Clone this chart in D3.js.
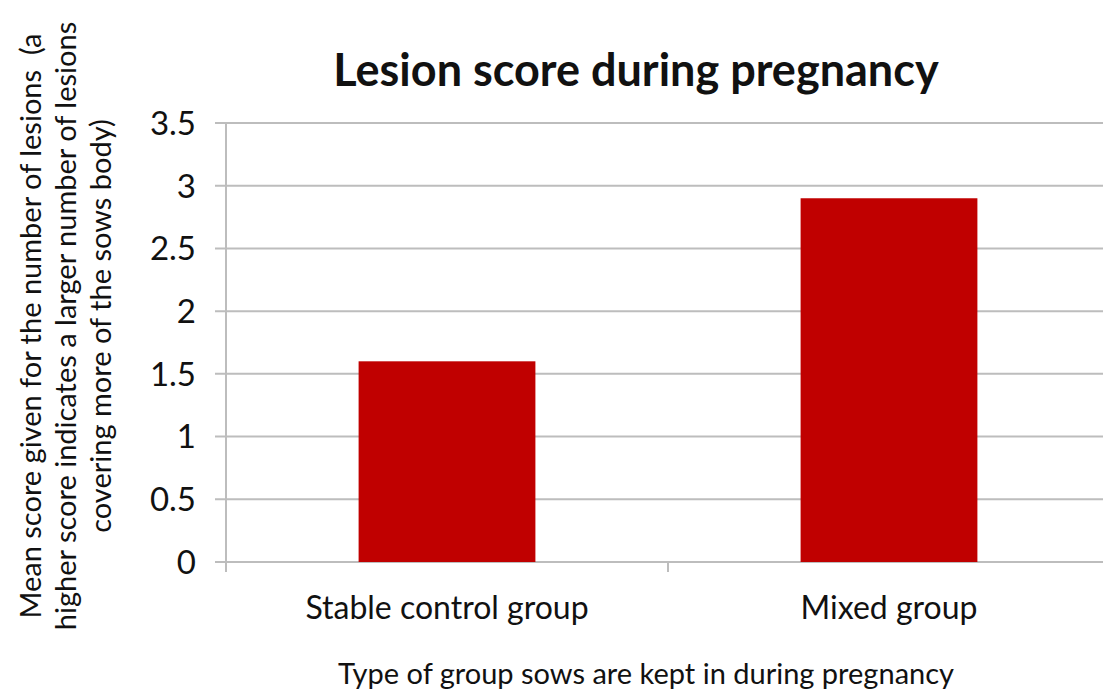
<!DOCTYPE html>
<html>
<head>
<meta charset="utf-8">
<script src="https://cdn.jsdelivr.net/npm/d3@7"></script>
<style>
  body { margin: 0; background: #fff; }
  text { font-family: Lato, "Open Sans", sans-serif; fill: #111; white-space: pre; }
</style>
</head>
<body>
<div id="chart"></div>
<script>
// lesion score bar chart
const categories = ['Stable control group', 'Mixed group'];
const scores = [1.6, 2.9];
const yTicks = [0, 0.5, 1, 1.5, 2, 2.5, 3, 3.5];
const yTitleLines = [
    'Mean score given for the number of lesions  (a',
    'higher score indicates a larger number of lesions',
    'covering more of the sows body)'
];

const svgWidth = 1103;
const svgHeight = 693;
const plot = { left: 226, right: 1110, top: 123, bottom: 562 };

const svg = d3.select('#chart')
    .append('svg')
    .attr('width', svgWidth)
    .attr('height', svgHeight);

const xScale = d3.scaleBand()
    .domain(categories)
    .range([plot.left, plot.right])
    .padding(0);
const yScale = d3.scaleLinear()
    .domain([0, 3.5])
    .range([plot.bottom, plot.top]);

const barW = xScale.bandwidth() * 0.4;

// gridlines (plus left tick stubs)
svg.append('g')
    .selectAll('line')
    .data(yTicks)
    .enter()
    .append('line')
    .attr('x1', plot.left - 11)
    .attr('x2', svgWidth)
    .attr('y1', d => yScale(d))
    .attr('y2', d => yScale(d))
    .attr('stroke', '#bdbdbd')
    .attr('stroke-width', 2);

// y axis line
svg.append('line')
    .attr('x1', plot.left).attr('x2', plot.left)
    .attr('y1', plot.top).attr('y2', plot.bottom + 10)
    .attr('stroke', '#bdbdbd')
    .attr('stroke-width', 2);

// x ticks at band edges
svg.append('g')
    .selectAll('line')
    .data(categories)
    .enter()
    .append('line')
    .attr('x1', d => xScale(d)).attr('x2', d => xScale(d))
    .attr('y1', plot.bottom).attr('y2', plot.bottom + 10)
    .attr('stroke', '#bdbdbd')
    .attr('stroke-width', 2);

// bars
svg.selectAll('rect.bar')
    .data(categories.map((c, i) => ({ cat: c, value: scores[i] })))
    .enter()
    .append('rect')
    .attr('class', 'bar')
    .attr('x', d => xScale(d.cat) + (xScale.bandwidth() - barW) / 2)
    .attr('y', d => yScale(d.value))
    .attr('width', barW)
    .attr('height', d => plot.bottom - yScale(d.value))
    .attr('fill', '#c00000');

// y tick labels
svg.append('g')
    .selectAll('text')
    .data(yTicks)
    .enter()
    .append('text')
    .attr('x', 196)
    .attr('y', d => yScale(d))
    .attr('dy', '0.36em')
    .attr('text-anchor', 'end')
    .style('font-size', '33px')
    .text(d => d);

// x category labels
svg.append('g')
    .selectAll('text')
    .data(categories)
    .enter()
    .append('text')
    .attr('x', d => xScale(d) + xScale.bandwidth() / 2)
    .attr('y', 619)
    .attr('text-anchor', 'middle')
    .style('font-size', '32px')
    .text(d => d);

// title
svg.append('text')
    .attr('x', 636)
    .attr('y', 86)
    .attr('text-anchor', 'middle')
    .style('font-size', '45px')
    .style('font-weight', 'bold')
    .text('Lesion score during pregnancy');

// x axis title
svg.append('text')
    .attr('x', 646)
    .attr('y', 684)
    .attr('text-anchor', 'middle')
    .style('font-size', '29px')
    .text('Type of group sows are kept in during pregnancy');

// y axis title
svg.append('g')
    .selectAll('text')
    .data(yTitleLines)
    .enter()
    .append('text')
    .attr('transform', (d, i) => `translate(${41 + i * 35},326) rotate(-90)`)
    .attr('text-anchor', 'middle')
    .style('font-size', '29px')
    .text(d => d);
</script>
</body>
</html>
